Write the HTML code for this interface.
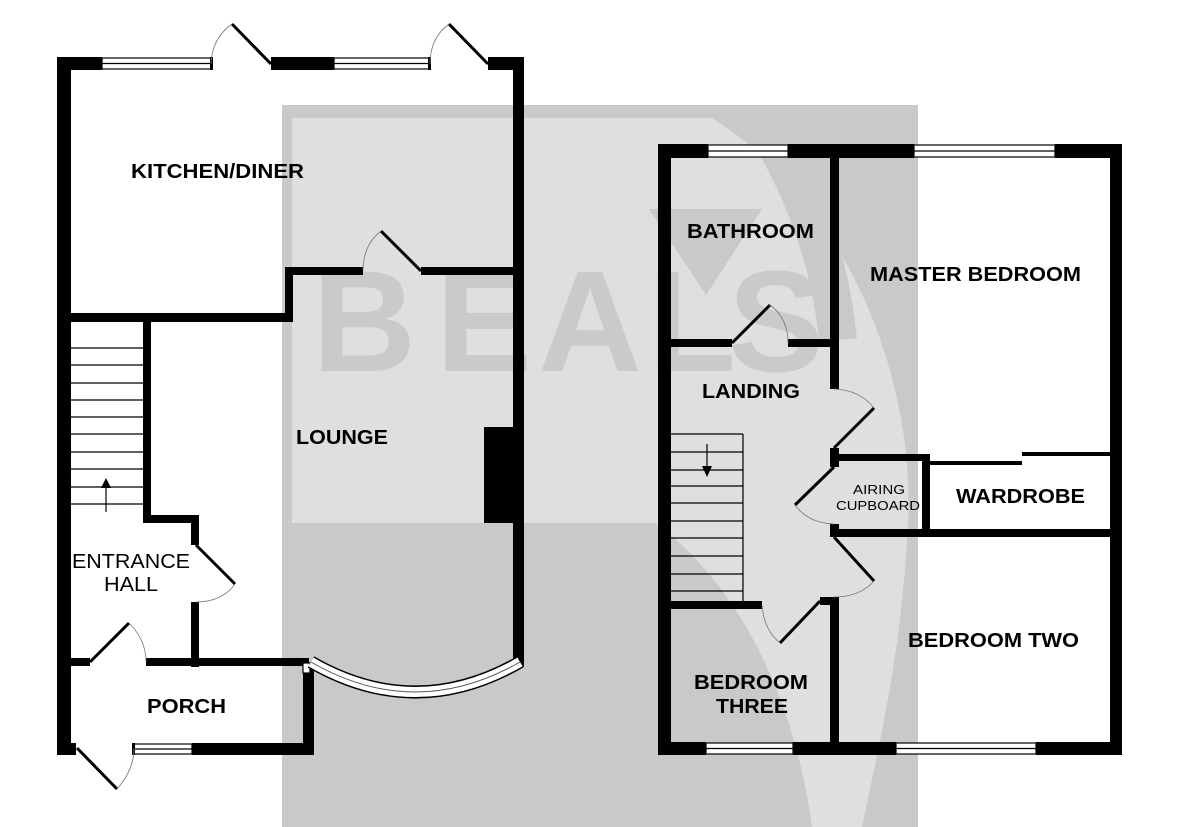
<!DOCTYPE html>
<html><head><meta charset="utf-8"><style>
html,body{margin:0;padding:0;background:#fff;}
svg{display:block;}
text{font-family:"Liberation Sans",Arial,sans-serif;font-weight:bold;fill:#000;}
</style></head><body>
<svg width="1200" height="827" viewBox="0 0 1200 827" xmlns="http://www.w3.org/2000/svg">
<defs><clipPath id="wm"><rect x="282" y="105" width="636" height="722"/></clipPath></defs>
<!-- watermark -->
<g clip-path="url(#wm)">
<rect x="282" y="105" width="636" height="722" fill="#c9c9c9"/>
<path d="M292,118 L712,118 C850,205 915,380 908,523 L292,523 Z" fill="#dfdfdf"/>
<path d="M655,523 L908,523 C902,650 880,740 862,827 L812,827 C795,700 740,585 655,523 Z" fill="#dfdfdf"/>
<path d="M760,118 C805,190 830,260 838,340" stroke="#c9c9c9" stroke-width="38" fill="none"/>
<polygon points="649,209 762,209 706,295" fill="#c9c9c9"/>
<g font-size="144">
<text x="312" y="371" style="fill:#cacaca">B</text>
<text x="436" y="371" style="fill:#cacaca">E</text>
<text x="538" y="371" style="fill:#cacaca">A</text>
<text x="648" y="371" style="fill:#cacaca">L</text>
<text x="728" y="371" style="fill:#cacaca">S</text>
</g>
</g>

<g fill="#000">
<!-- GROUND FLOOR -->
<rect x="57" y="57" width="14" height="698"/>
<rect x="57" y="57" width="45" height="13"/>
<rect x="271" y="57" width="63" height="13"/>
<rect x="488" y="57" width="36" height="13"/>
<rect x="513" y="57" width="11" height="610"/>
<rect x="70" y="313" width="223" height="9"/>
<rect x="285" y="267" width="8" height="55"/>
<rect x="285" y="267" width="78" height="8"/>
<rect x="421" y="267" width="92" height="8"/>
<rect x="484" y="427" width="29" height="96"/>
<rect x="143" y="322" width="8" height="198"/>
<rect x="143" y="515" width="56" height="8"/>
<rect x="191" y="515" width="8" height="30"/>
<rect x="191" y="602" width="8" height="65"/>
<rect x="57" y="658" width="33" height="8"/>
<rect x="146" y="658" width="163" height="8"/>
<rect x="303" y="667" width="11" height="88"/>
<rect x="57" y="743" width="19" height="12"/>
<rect x="192" y="743" width="122" height="12"/>

<!-- FIRST FLOOR -->
<rect x="658" y="144" width="13" height="611"/>
<rect x="658" y="144" width="50" height="14"/>
<rect x="788" y="144" width="126" height="14"/>
<rect x="1055" y="144" width="67" height="14"/>
<rect x="1110" y="144" width="12" height="611"/>
<rect x="658" y="742" width="48" height="13"/>
<rect x="793" y="742" width="103" height="13"/>
<rect x="1036" y="742" width="86" height="13"/>
<rect x="830" y="158" width="9" height="231"/>
<rect x="671" y="339" width="61" height="8"/>
<rect x="788" y="339" width="43" height="8"/>
<rect x="830" y="448" width="9" height="19"/>
<rect x="836" y="454" width="94" height="7"/>
<rect x="922" y="454" width="8" height="76"/>
<rect x="830" y="524" width="9" height="13"/>
<rect x="836" y="529" width="278" height="8"/>
<rect x="830" y="597" width="9" height="146"/>
<rect x="820" y="597" width="12" height="8"/>
<rect x="671" y="601" width="91" height="8"/>
<rect x="930" y="461" width="92" height="4"/>
<rect x="1022" y="452" width="90" height="4"/>
</g>

<!-- windows -->
<g fill="#fff" stroke="#000" stroke-width="1.2">
<rect x="102" y="58" width="109" height="11"/><line x1="102" y1="63.5" x2="211" y2="63.5"/>
<rect x="334" y="58" width="96" height="11"/><line x1="334" y1="63.5" x2="430" y2="63.5"/>
<rect x="134" y="744" width="58" height="10"/><line x1="134" y1="749" x2="192" y2="749"/>
<rect x="708" y="145" width="80" height="12"/><line x1="708" y1="151" x2="788" y2="151"/>
<rect x="914" y="145" width="141" height="12"/><line x1="914" y1="151" x2="1055" y2="151"/>
<rect x="706" y="743" width="87" height="11"/><line x1="706" y1="748.5" x2="793" y2="748.5"/>
<rect x="896" y="743" width="140" height="11"/><line x1="896" y1="748.5" x2="1036" y2="748.5"/>
<rect x="303" y="663" width="7" height="10"/>
</g>
<rect x="210" y="57" width="3" height="13" fill="#000"/>
<rect x="428" y="57" width="3" height="13" fill="#000"/>
<rect x="132" y="743" width="3" height="12" fill="#000"/>
<!-- bay window -->
<path d="M311,662 Q415,722 520,662" stroke="#000" stroke-width="13" fill="none"/>
<path d="M311,662 Q415,722 520,662" stroke="#fff" stroke-width="10" fill="none"/>
<path d="M311,662 Q415,722 520,662" stroke="#555" stroke-width="1" fill="none"/>

<!-- stairs -->
<g stroke="#000" stroke-width="1.2">
<line x1="71" y1="348" x2="143" y2="348"/><line x1="71" y1="365" x2="143" y2="365"/>
<line x1="71" y1="383" x2="143" y2="383"/><line x1="71" y1="400" x2="143" y2="400"/>
<line x1="71" y1="417" x2="143" y2="417"/><line x1="71" y1="434" x2="143" y2="434"/>
<line x1="71" y1="452" x2="143" y2="452"/><line x1="71" y1="469" x2="143" y2="469"/>
<line x1="71" y1="487" x2="143" y2="487"/><line x1="71" y1="504" x2="143" y2="504"/>
<line x1="106" y1="512" x2="106" y2="485"/>
<line x1="671" y1="434" x2="743" y2="434"/><line x1="743" y1="434" x2="743" y2="601"/>
<line x1="671" y1="452" x2="743" y2="452"/><line x1="671" y1="470" x2="743" y2="470"/>
<line x1="671" y1="486" x2="743" y2="486"/><line x1="671" y1="503" x2="743" y2="503"/>
<line x1="671" y1="521" x2="743" y2="521"/><line x1="671" y1="538" x2="743" y2="538"/>
<line x1="671" y1="556" x2="743" y2="556"/><line x1="671" y1="574" x2="743" y2="574"/>
<line x1="671" y1="591" x2="743" y2="591"/>
<line x1="707" y1="444" x2="707" y2="468"/>
</g>
<polygon points="101,488 111,488 106,478" fill="#000"/>
<polygon points="702,466 712,466 707,477" fill="#000"/>

<!-- door leaves -->
<g stroke="#000" stroke-width="3" fill="none">
<line x1="271" y1="64" x2="232" y2="24"/>
<line x1="488" y1="64" x2="449" y2="24"/>
<line x1="421" y1="271" x2="381" y2="231"/>
<line x1="196" y1="545" x2="235" y2="584"/>
<line x1="90" y1="662" x2="129" y2="623"/>
<line x1="77" y1="748" x2="117" y2="789"/>
<line x1="732" y1="343" x2="770" y2="305"/>
<line x1="834" y1="448" x2="874" y2="408"/>
<line x1="834" y1="467" x2="795" y2="505"/>
<line x1="834" y1="537" x2="874" y2="581"/>
<line x1="820" y1="601" x2="780" y2="643"/>
</g>
<g stroke="#777" stroke-width="0.8" fill="none">
<path d="M232,24 Q212,38 211,64"/>
<path d="M449,24 Q430,38 430,64"/>
<path d="M381,231 Q363,245 363,271"/>
<path d="M235,584 Q222,602 196,602"/>
<path d="M129,623 Q146,640 146,662"/>
<path d="M117,789 Q134,770 134,748"/>
<path d="M770,305 Q788,318 788,343"/>
<path d="M874,408 Q860,390 834,389"/>
<path d="M795,505 Q808,523 834,524"/>
<path d="M874,581 Q860,597 834,597"/>
<path d="M780,643 Q764,630 762,605"/>
</g>

<!-- labels -->
<g font-size="20">
<text x="131" y="178" textLength="173" lengthAdjust="spacingAndGlyphs">KITCHEN/DINER</text>
<text x="296" y="444" textLength="92" lengthAdjust="spacingAndGlyphs">LOUNGE</text>
<text x="147" y="713" textLength="79" lengthAdjust="spacingAndGlyphs">PORCH</text>
<text x="687" y="238" textLength="127" lengthAdjust="spacingAndGlyphs">BATHROOM</text>
<text x="870" y="281" textLength="211" lengthAdjust="spacingAndGlyphs">MASTER BEDROOM</text>
<text x="702" y="398" textLength="98" lengthAdjust="spacingAndGlyphs">LANDING</text>
<text x="956" y="503" textLength="129" lengthAdjust="spacingAndGlyphs">WARDROBE</text>
<text x="908" y="647" textLength="171" lengthAdjust="spacingAndGlyphs">BEDROOM TWO</text>
<text x="694" y="689" textLength="114" lengthAdjust="spacingAndGlyphs">BEDROOM</text>
<text x="716" y="713" textLength="72" lengthAdjust="spacingAndGlyphs">THREE</text>
</g>
<g font-size="20">
<text x="72" y="568" textLength="118" lengthAdjust="spacingAndGlyphs" style="font-weight:normal">ENTRANCE</text>
<text x="104" y="591" textLength="54" lengthAdjust="spacingAndGlyphs" style="font-weight:normal">HALL</text>
</g>
<g font-size="13">
<text x="853" y="494" textLength="52" lengthAdjust="spacingAndGlyphs" style="font-weight:normal">AIRING</text>
<text x="836" y="510" textLength="84" lengthAdjust="spacingAndGlyphs" style="font-weight:normal">CUPBOARD</text>
</g>
</svg>
</body></html>
